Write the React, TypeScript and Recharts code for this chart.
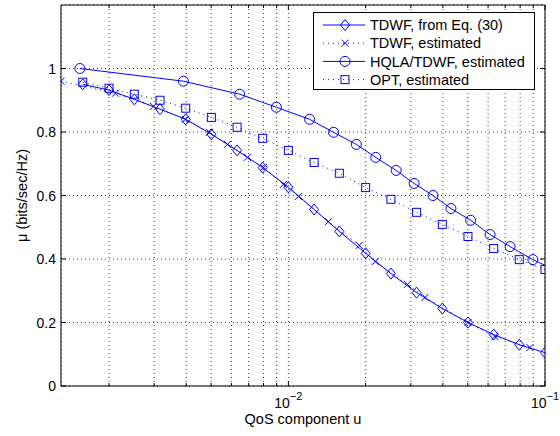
import {
  LineChart,
  Line,
  XAxis,
  YAxis,
  CartesianGrid,
  ReferenceArea,
  Legend,
} from 'recharts';

const BLUE = '#0000ff';
const FONT = '"Liberation Sans", Arial, Helvetica, sans-serif';

const WIDTH = 560;
const HEIGHT = 436;
const MARGIN = { top: 5, right: 15, left: 0, bottom: 0 };
const Y_AXIS_WIDTH = 61;
const X_AXIS_HEIGHT = 50;
const PLOT_TOP = MARGIN.top;
const PLOT_BOTTOM = HEIGHT - MARGIN.bottom - X_AXIS_HEIGHT;
const PLOT_LEFT = MARGIN.left + Y_AXIS_WIDTH;
const PLOT_RIGHT = WIDTH - MARGIN.right;

const X_MIN = 0.0013;
const X_MAX = 0.1;
const Y_MIN = 0;
const Y_MAX = 1.2;

// log grid: 2..9 x 10^-3, 10^-2 and 10^-1
const X_TICKS = [
  0.002, 0.003, 0.004, 0.005, 0.006, 0.007, 0.008, 0.009, 0.01,
  0.02, 0.03, 0.04, 0.05, 0.06, 0.07, 0.08, 0.09, 0.1,
];
const X_LABELLED = [0.01, 0.1];
const Y_TICKS = [0, 0.2, 0.4, 0.6, 0.8, 1];

// TDWF, from Eq. (30) and OPT share the same u values
const EQ_U = [
  0.00158, 0.002, 0.00251, 0.00316, 0.00398, 0.00501, 0.00631, 0.00794, 0.01,
  0.0126, 0.0158, 0.02, 0.0251, 0.0316, 0.0398, 0.0501, 0.0631, 0.0794, 0.1,
];
const EQ_MU = [
  0.95, 0.932, 0.903, 0.872, 0.84, 0.793, 0.742, 0.688, 0.626,
  0.556, 0.487, 0.418, 0.354, 0.294, 0.244, 0.2, 0.162, 0.13, 0.105,
];
const OPT_MU = [
  0.957, 0.938, 0.919, 0.9, 0.875, 0.846, 0.815, 0.78, 0.742,
  0.704, 0.67, 0.625, 0.588, 0.547, 0.509, 0.471, 0.433, 0.398, 0.367,
];

const TDWF_EST_U = [
  0.0013, 0.00212, 0.00298, 0.00397, 0.00493, 0.00579, 0.00692, 0.008, 0.00957,
  0.01094, 0.01432, 0.01889, 0.0218, 0.0291, 0.0341, 0.0501, 0.0638, 0.0874,
];
const TDWF_EST_MU = [
  0.96, 0.922, 0.881, 0.84, 0.799, 0.761, 0.72, 0.688, 0.635,
  0.597, 0.518, 0.443, 0.392, 0.32, 0.279, 0.2, 0.156, 0.121,
];

// last point lies past u = 0.1 and is clipped by the axes
const HQLA_U = [
  0.00154, 0.0039, 0.00646, 0.00898, 0.0121, 0.015, 0.0184, 0.0219, 0.0263,
  0.0309, 0.0366, 0.043, 0.0513, 0.0611, 0.0731, 0.0897, 0.115,
];
const HQLA_MU = [
  1.0, 0.96, 0.919, 0.878, 0.84, 0.799, 0.761, 0.72, 0.679,
  0.638, 0.6, 0.559, 0.522, 0.477, 0.439, 0.398, 0.357,
];

type Marker = 'diamond' | 'cross' | 'circle' | 'square';

const zip = (u: number[], mu: number[]) => u.map((x, i) => ({ x, y: mu[i] }));

const SERIES: Array<{
  name: string;
  data: Array<{ x: number; y: number }>;
  marker: Marker;
  dotted: boolean;
}> = [
  { name: 'TDWF, from Eq. (30)', data: zip(EQ_U, EQ_MU), marker: 'diamond', dotted: false },
  { name: 'TDWF, estimated', data: zip(TDWF_EST_U, TDWF_EST_MU), marker: 'cross', dotted: true },
  { name: 'HQLA/TDWF, estimated', data: zip(HQLA_U, HQLA_MU), marker: 'circle', dotted: false },
  { name: 'OPT, estimated', data: zip(EQ_U, OPT_MU), marker: 'square', dotted: true },
];

function drawMarker(marker: Marker, cx: number, cy: number, key?: string) {
  switch (marker) {
    case 'diamond':
      return (
        <path
          key={key}
          d={`M${cx},${cy - 5.5}L${cx + 4.5},${cy}L${cx},${cy + 5.5}L${cx - 4.5},${cy}Z`}
          fill="none"
          stroke={BLUE}
        />
      );
    case 'cross':
      return (
        <path
          key={key}
          d={`M${cx - 3.5},${cy - 3.5}L${cx + 3.5},${cy + 3.5}M${cx - 3.5},${cy + 3.5}L${cx + 3.5},${cy - 3.5}`}
          fill="none"
          stroke={BLUE}
        />
      );
    case 'circle':
      return <circle key={key} cx={cx} cy={cy} r={5} fill="none" stroke={BLUE} />;
    default:
      return <rect key={key} x={cx - 4} y={cy - 4} width={8} height={8} fill="none" stroke={BLUE} />;
  }
}

const makeDot = (marker: Marker) => (props: any) => {
  const { cx, cy, index, payload } = props;
  if (cx == null || cy == null || payload.x > X_MAX) return <g key={`dot-${index}`} />;
  return drawMarker(marker, cx, cy, `dot-${index}`);
};

function XTick({ x, payload }: any) {
  const v = payload.value as number;
  const major = X_LABELLED.includes(v);
  const len = major ? 5 : 3;
  const exp = Math.round(Math.log10(v));
  return (
    <g>
      <line x1={x} x2={x} y1={PLOT_BOTTOM} y2={PLOT_BOTTOM - len} stroke="#000" />
      <line x1={x} x2={x} y1={PLOT_TOP} y2={PLOT_TOP + len} stroke="#000" />
      {major && (
        <text x={x} y={PLOT_BOTTOM + 22} textAnchor="middle" fontSize={14} fill="#000">
          <tspan>10</tspan>
          <tspan dy={-8} fontSize={11}>{`\u2212${Math.abs(exp)}`}</tspan>
        </text>
      )}
    </g>
  );
}

function YTick({ y, payload }: any) {
  const v = payload.value as number;
  return (
    <g>
      <line x1={PLOT_LEFT} x2={PLOT_LEFT + 5} y1={y} y2={y} stroke="#000" />
      <line x1={PLOT_RIGHT} x2={PLOT_RIGHT - 5} y1={y} y2={y} stroke="#000" />
      <text x={PLOT_LEFT - 5} y={y} dy="0.36em" textAnchor="end" fontSize={14} fill="#000">
        {String(v)}
      </text>
    </g>
  );
}

function YLabel() {
  const cx = 22;
  const cy = (PLOT_TOP + PLOT_BOTTOM) / 2;
  return (
    <text
      x={cx}
      y={cy}
      transform={`rotate(-90 ${cx} ${cy})`}
      textAnchor="middle"
      dy="0.36em"
      fontSize={14.5}
      fill="#000"
    >
      {'\u03bc (bits/sec/Hz)'}
    </text>
  );
}

function LegendBox() {
  const rowH = 18.2;
  const w = 222;
  const h = 78;
  return (
    <svg width={w} height={h} style={{ display: 'block', fontFamily: FONT }}>
      <rect x={0.5} y={0.5} width={w - 1} height={h - 1} fill="#fff" stroke="#000" />
      {SERIES.map((s, i) => {
        const cy = 13 + i * rowH;
        return (
          <g key={s.name}>
            <line
              x1={10}
              x2={52}
              y1={cy}
              y2={cy}
              stroke={BLUE}
              strokeDasharray={s.dotted ? '1 4' : undefined}
            />
            {drawMarker(s.marker, 32, cy)}
            <text x={57} y={cy} dy="0.36em" fontSize={14.5} fill="#000">
              {s.name}
            </text>
          </g>
        );
      })}
    </svg>
  );
}

export default function App() {
  return (
    <div style={{ position: 'absolute', left: 0, top: 0, background: '#fff' }}>
      <LineChart
        width={WIDTH}
        height={HEIGHT}
        margin={MARGIN}
        style={{ fontFamily: FONT }}
      >
        <CartesianGrid stroke="#444" strokeDasharray="1 3" />
        <XAxis
          type="number"
          dataKey="x"
          scale="log"
          domain={[X_MIN, X_MAX]}
          allowDataOverflow
          ticks={X_TICKS}
          interval={0}
          tick={<XTick />}
          tickLine={false}
          axisLine={false}
          height={X_AXIS_HEIGHT}
          label={{
            value: 'QoS component u',
            position: 'insideBottom',
            offset: 12,
            fontSize: 14.5,
            fill: '#000',
          }}
        />
        <YAxis
          type="number"
          domain={[Y_MIN, Y_MAX]}
          allowDataOverflow
          ticks={Y_TICKS}
          interval={0}
          tick={<YTick />}
          tickLine={false}
          axisLine={false}
          width={Y_AXIS_WIDTH}
          label={<YLabel />}
        />
        <ReferenceArea
          x1={X_MIN}
          x2={X_MAX}
          y1={Y_MIN}
          y2={Y_MAX}
          fill="none"
          fillOpacity={0}
          stroke="#000"
          strokeWidth={1}
        />
        {SERIES.map((s) => (
          <Line
            key={s.name}
            name={s.name}
            data={s.data}
            dataKey="y"
            type="linear"
            stroke={BLUE}
            strokeWidth={1}
            strokeDasharray={s.dotted ? '1 4' : undefined}
            dot={makeDot(s.marker)}
            activeDot={false}
            legendType="none"
            isAnimationActive={false}
          />
        ))}
        <Legend
          layout="vertical"
          align="center"
          verticalAlign="middle"
          content={<LegendBox />}
          wrapperStyle={{ position: 'absolute', left: 313, top: 12, width: 222, height: 78 }}
        />
      </LineChart>
    </div>
  );
}
